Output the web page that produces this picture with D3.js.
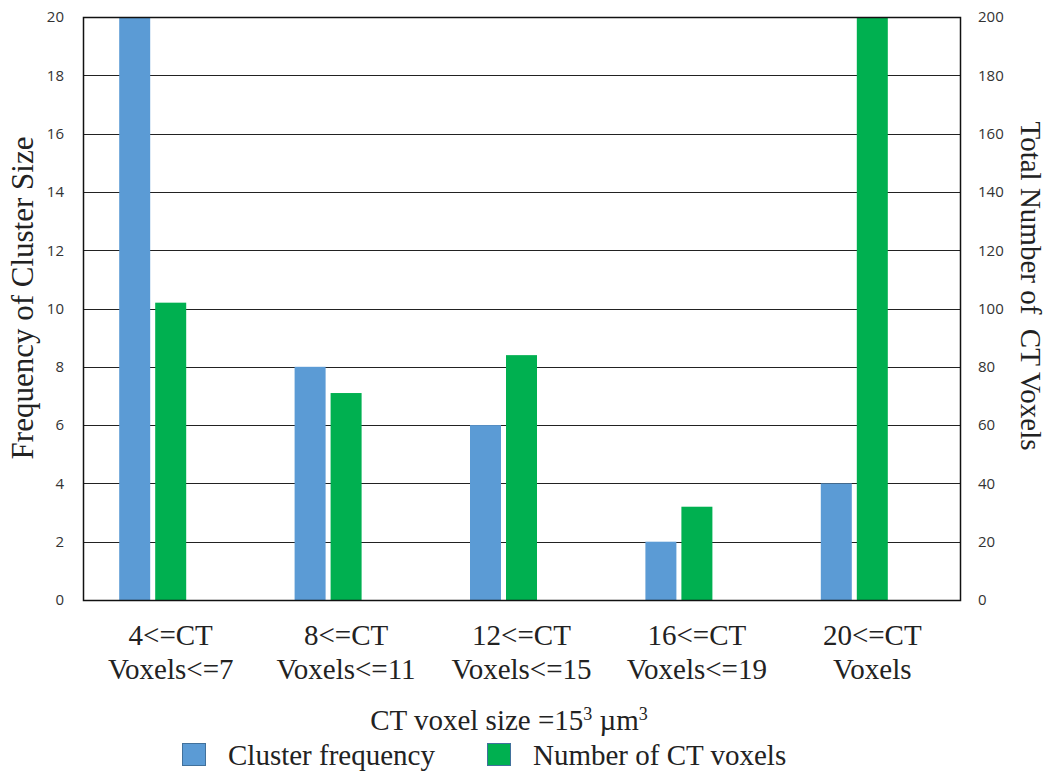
<!DOCTYPE html>
<html>
<head>
<meta charset="utf-8">
<script src="https://cdn.jsdelivr.net/npm/d3@7/dist/d3.min.js"></script>
<style>
  html, body { margin: 0; padding: 0; background: #fff; }
  svg { display: block; }
  .serif { font-family: "Liberation Serif", "Times New Roman", "DejaVu Serif", serif; }
</style>
</head>
<body>
<script>
// Cluster-size bins, each label split over two lines
const categories = [
  ["4<=CT", "Voxels<=7"],
  ["8<=CT", "Voxels<=11"],
  ["12<=CT", "Voxels<=15"],
  ["16<=CT", "Voxels<=19"],
  ["20<=CT", "Voxels"]
];
const clusterFrequency = [20, 8, 6, 2, 4];       // left axis
const ctVoxelCount = [102, 71, 84, 32, 200];     // right axis
const leftTicks = [0, 2, 4, 6, 8, 10, 12, 14, 16, 18, 20];
const rightTicks = [0, 20, 40, 60, 80, 100, 120, 140, 160, 180, 200];
const seriesNames = ["Cluster frequency", "Number of CT voxels"];
const colors = ["#5b9bd5", "#00b050"];

const W = 1050, H = 776;
const plot = { left: 83, right: 960, top: 17, bottom: 600 };
const textSize = 29;

const svg = d3.select("body").append("svg")
  .attr("width", W).attr("height", H);

const x = d3.scaleBand()
  .domain(d3.range(categories.length))
  .range([plot.left, plot.right]);

const yL = d3.scaleLinear().domain([0, 20]).range([plot.bottom, plot.top]);
const yR = d3.scaleLinear().domain([0, 200]).range([plot.bottom, plot.top]);

// Horizontal gridlines
svg.append("g").selectAll("line").data(leftTicks).join("line")
  .attr("x1", plot.left).attr("x2", plot.right)
  .attr("y1", d => Math.round(yL(d)) + 0.5).attr("y2", d => Math.round(yL(d)) + 0.5)
  .attr("stroke", "#222").attr("stroke-width", 1.2);

const barW = 31;
const gap = 5;

// Cluster frequency bars sit to the left of the category centre
svg.append("g").selectAll("rect").data(clusterFrequency).join("rect")
  .attr("x", (d, i) => x(i) + x.bandwidth() / 2 - barW / 2 - gap - barW)
  .attr("y", d => yL(d))
  .attr("width", barW)
  .attr("height", d => yL(0) - yL(d))
  .attr("fill", colors[0]);

// CT voxel bars are centred on the category
svg.append("g").selectAll("rect").data(ctVoxelCount).join("rect")
  .attr("x", (d, i) => x(i) + x.bandwidth() / 2 - barW / 2)
  .attr("y", d => yR(d))
  .attr("width", barW)
  .attr("height", d => yR(0) - yR(d))
  .attr("fill", colors[1]);

// Plot frame
svg.append("rect")
  .attr("x", plot.left + 0.5).attr("y", plot.top + 0.5)
  .attr("width", plot.right - plot.left).attr("height", plot.bottom - plot.top)
  .attr("fill", "none").attr("stroke", "#111").attr("stroke-width", 1.5);

// Left axis tick labels
const tickFont = "'Open Sans', 'Liberation Sans', sans-serif";
const axL = d3.axisLeft(yL).tickValues(leftTicks).tickSize(0).tickPadding(19);
svg.append("g").attr("transform", `translate(${plot.left},0)`).call(axL)
  .call(g => g.select(".domain").remove())
  .selectAll("text")
  .attr("font-family", tickFont).attr("font-size", 15).attr("fill", "#333");

// Right axis tick labels
const axR = d3.axisRight(yR).tickValues(rightTicks).tickSize(0).tickPadding(18);
svg.append("g").attr("transform", `translate(${plot.right},0)`).call(axR)
  .call(g => g.select(".domain").remove())
  .selectAll("text")
  .attr("font-family", tickFont).attr("font-size", 15).attr("fill", "#333");

// Category labels
const catG = svg.append("g").attr("class", "serif").attr("font-size", textSize)
  .attr("fill", "#222").attr("text-anchor", "middle");
categories.forEach((lines, i) => {
  const cx = x(i) + x.bandwidth() / 2;
  lines.forEach((t, j) => {
    catG.append("text").attr("x", cx).attr("y", 645 + j * 34).text(t);
  });
});

// Axis titles
svg.append("text").attr("class", "serif")
  .attr("transform", "translate(33,298) rotate(-90)")
  .attr("text-anchor", "middle")
  .attr("font-size", 31).attr("fill", "#222")
  .text("Frequency of Cluster Size");

svg.append("text").attr("class", "serif")
  .attr("transform", "translate(1021,286) rotate(90)")
  .attr("text-anchor", "middle")
  .attr("font-size", textSize).attr("fill", "#222")
  .style("white-space", "pre")
  .text("Total Number of  CT Voxels");

const xt = svg.append("text").attr("class", "serif")
  .attr("x", 509).attr("y", 730)
  .attr("text-anchor", "middle")
  .attr("font-size", textSize).attr("fill", "#222");
xt.append("tspan").text("CT voxel size =15");
xt.append("tspan").attr("font-size", 18).attr("dy", -10).text("3");
xt.append("tspan").attr("dy", 10).text(" \u00b5m");
xt.append("tspan").attr("font-size", 18).attr("dy", -10).text("3");

// Legend
const legendX = [182, 487];
const lg = svg.append("g");
seriesNames.forEach((name, i) => {
  lg.append("rect")
    .attr("x", legendX[i] + 0.5).attr("y", 743.5)
    .attr("width", 23).attr("height", 22)
    .attr("fill", colors[i]).attr("stroke", "#41719c").attr("stroke-width", 1);
  lg.append("text").attr("class", "serif")
    .attr("x", legendX[i] + 46).attr("y", 765)
    .attr("font-size", textSize).attr("fill", "#222")
    .text(name);
});
</script>
</body>
</html>
